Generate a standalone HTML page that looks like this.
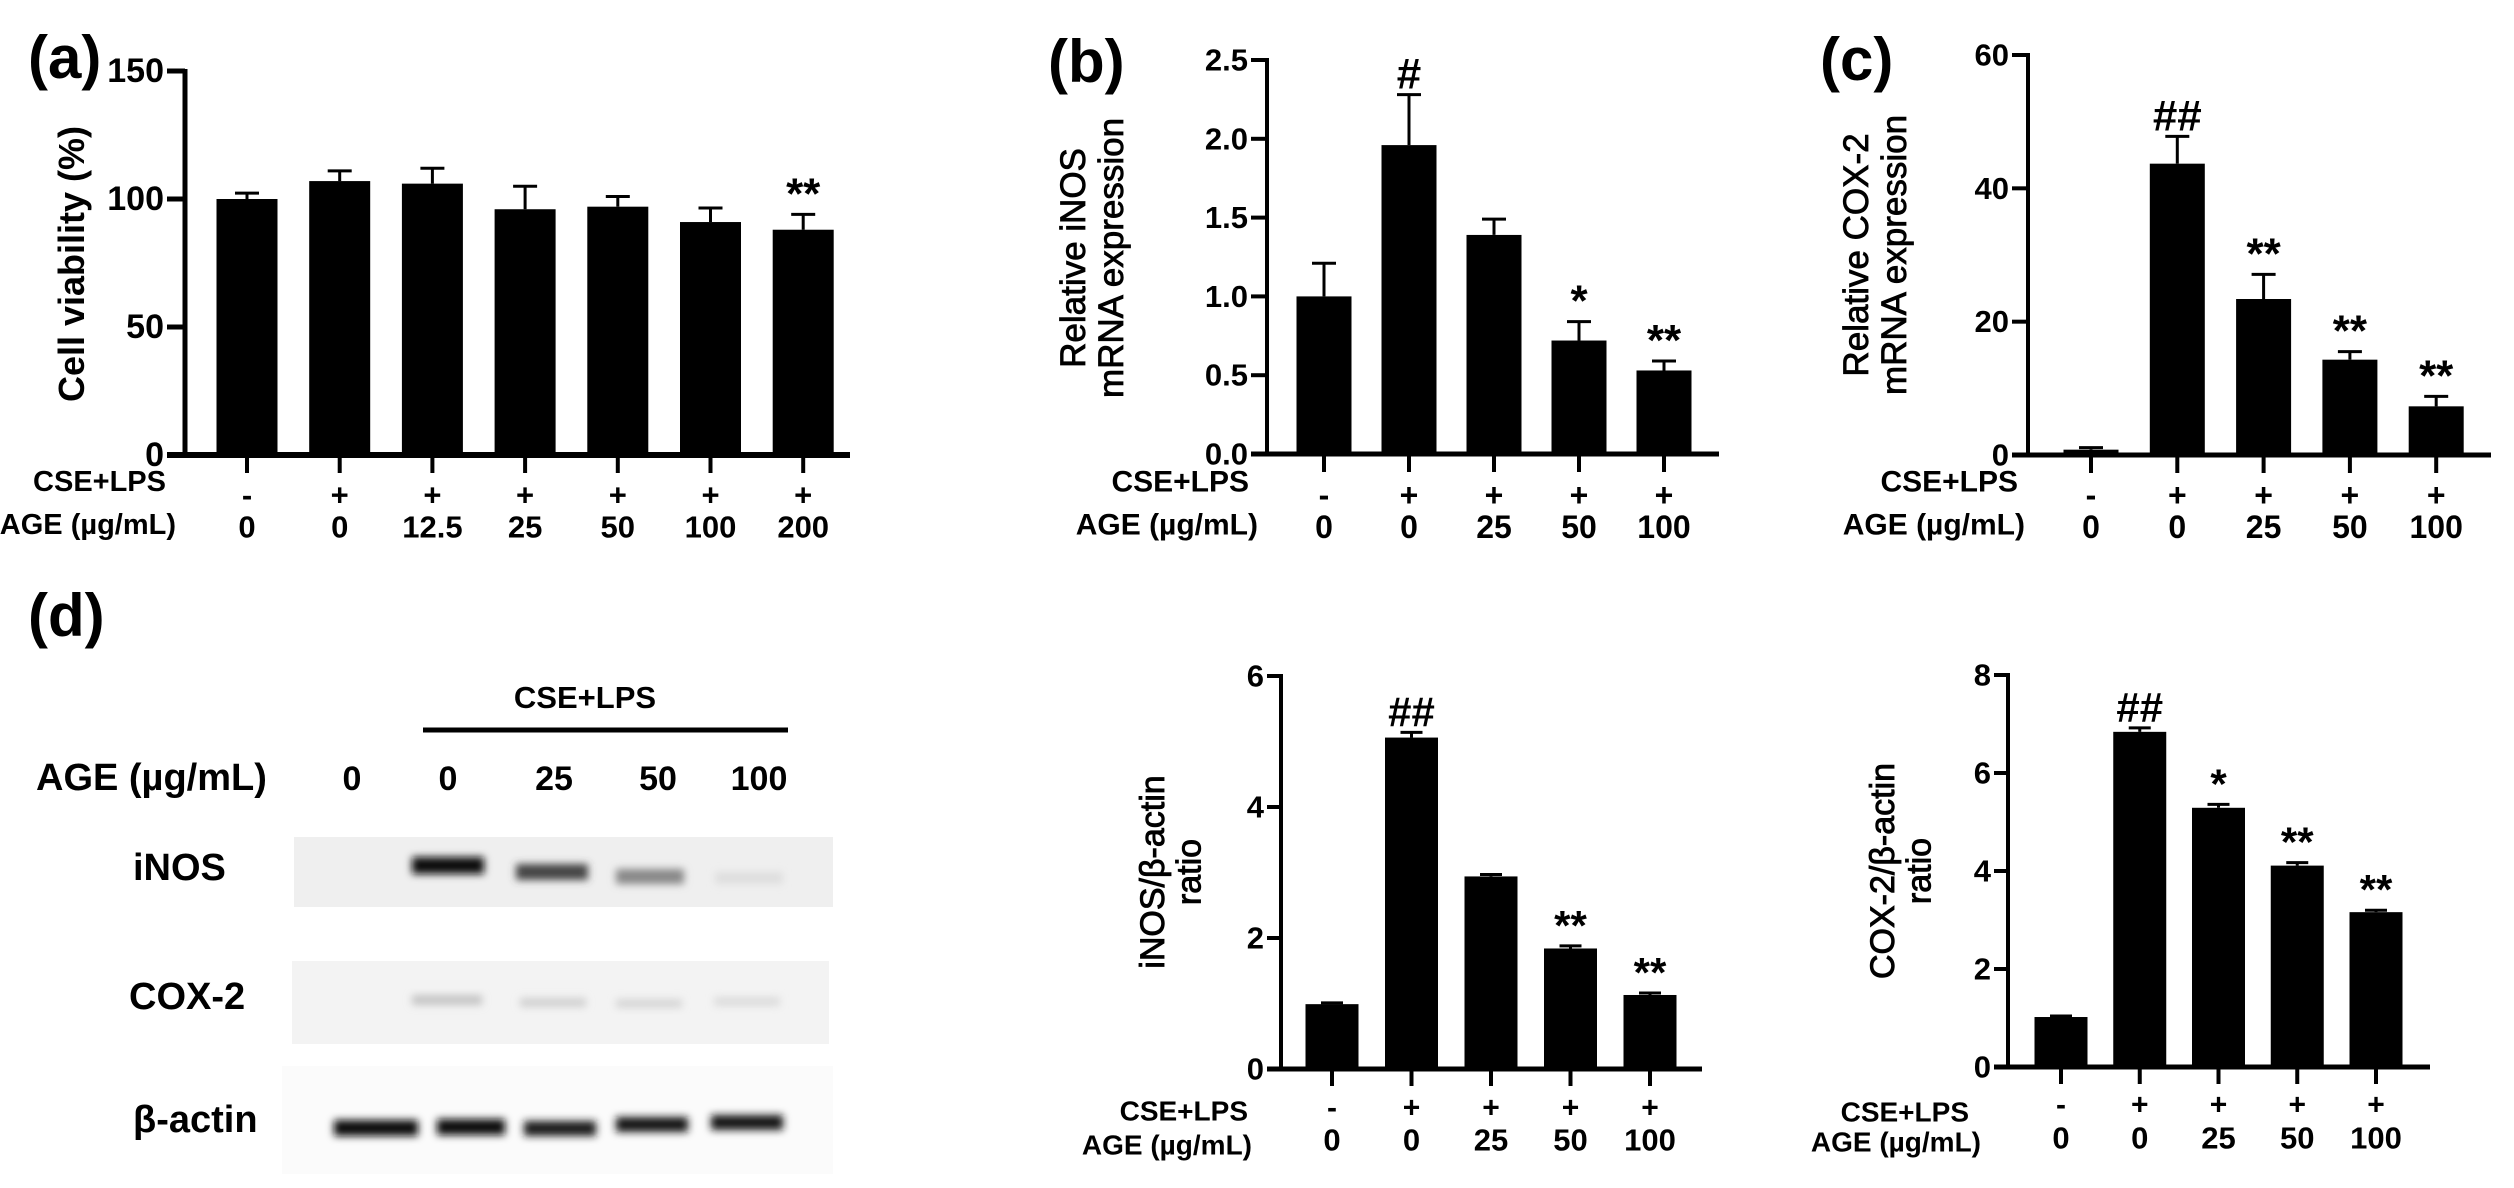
<!DOCTYPE html>
<html><head><meta charset="utf-8">
<style>
html,body{margin:0;padding:0;background:#fff;}
svg{display:block;}
text{font-family:"Liberation Sans","DejaVu Sans",sans-serif;fill:#000;}
</style></head>
<body>
<svg id="fig" width="2514" height="1188" viewBox="0 0 2514 1188" xmlns="http://www.w3.org/2000/svg">
  <defs>
    <filter id="blur4" x="-20%" y="-50%" width="140%" height="200%"><feGaussianBlur stdDeviation="4"/></filter>
  </defs>
  <!-- panel labels -->
  <text x="28" y="78" font-size="60" font-weight="bold">(a)</text>
  <text x="1048" y="82" font-size="60" font-weight="bold">(b)</text>
  <text x="1820" y="80" font-size="60" font-weight="bold">(c)</text>
  <text x="28" y="636" font-size="60" font-weight="bold">(d)</text>

  <!-- western blot -->
  <g>
    <text x="585" y="708" font-size="31" font-weight="bold" text-anchor="middle">CSE+LPS</text>
    <line x1="423" y1="730" x2="788" y2="730" stroke="#000" stroke-width="5"/>
    <text x="36" y="790" font-size="38" font-weight="bold">AGE (µg/mL)</text>
    <text x="352" y="790" font-size="34" font-weight="bold" text-anchor="middle">0</text>
    <text x="448" y="790" font-size="34" font-weight="bold" text-anchor="middle">0</text>
    <text x="554" y="790" font-size="34" font-weight="bold" text-anchor="middle">25</text>
    <text x="658" y="790" font-size="34" font-weight="bold" text-anchor="middle">50</text>
    <text x="759" y="790" font-size="34" font-weight="bold" text-anchor="middle">100</text>

    <text x="133" y="880" font-size="38" font-weight="bold">iNOS</text>
    <rect x="294" y="837" width="539" height="70" fill="#efefef"/>
    <g filter="url(#blur4)">
      <rect x="412" y="857" width="72" height="17" fill="#111"/>
      <rect x="516" y="864" width="72" height="16" fill="#444"/>
      <rect x="616" y="869" width="68" height="15" fill="#888"/>
      <rect x="715" y="872" width="68" height="12" fill="#dedede"/>
    </g>

    <text x="129" y="1009" font-size="38" font-weight="bold">COX-2</text>
    <rect x="292" y="961" width="537" height="83" fill="#f3f3f3"/>
    <g filter="url(#blur4)">
      <rect x="412" y="995" width="70" height="10" fill="#c4c4c4"/>
      <rect x="520" y="998" width="66" height="9" fill="#d0d0d0"/>
      <rect x="616" y="999" width="66" height="9" fill="#d6d6d6"/>
      <rect x="714" y="997" width="66" height="9" fill="#dcdcdc"/>
    </g>

    <text x="133" y="1132" font-size="38" font-weight="bold">β-actin</text>
    <rect x="282" y="1066" width="551" height="108" fill="#fbfbfb"/>
    <g filter="url(#blur4)">
      <rect x="334" y="1120" width="84" height="16" fill="#111"/>
      <rect x="437" y="1119" width="68" height="16" fill="#111"/>
      <rect x="524" y="1121" width="72" height="15" fill="#1a1a1a"/>
      <rect x="616" y="1117" width="72" height="15" fill="#151515"/>
      <rect x="711" y="1115" width="72" height="15" fill="#151515"/>
    </g>
  </g>
  <g id="charts"></g>
</svg>
<script>
// ---- Panel (a): cell viability ----
const aCategories = ["0","0","12.5","25","50","100","200"];
const aLps = ["-","+","+","+","+","+","+"];
const aValues = [100,107,106,96,97,91,88];
const aErrors = [2.3,4,6,9,4,5.5,6];
const aMarks = ["","","","","","","**"];
const aTicks = [0,50,100,150];
const aTickLabels = ["0","50","100","150"];

// ---- Panel (b): iNOS mRNA ----
const bCategories = ["0","0","25","50","100"];
const bLps = ["-","+","+","+","+"];
const bValues = [1.0,1.96,1.39,0.72,0.53];
const bErrors = [0.21,0.32,0.10,0.12,0.06];
const bMarks = ["","#","","*","**"];
const bTicks = [0,0.5,1.0,1.5,2.0,2.5];
const bTickLabels = ["0.0","0.5","1.0","1.5","2.0","2.5"];

// ---- Panel (c): COX-2 mRNA ----
const cCategories = ["0","0","25","50","100"];
const cLps = ["-","+","+","+","+"];
const cValues = [0.8,43.7,23.4,14.3,7.3];
const cErrors = [0.3,4.1,3.7,1.2,1.5];
const cMarks = ["","##","**","**","**"];
const cTicks = [0,20,40,60];
const cTickLabels = ["0","20","40","60"];

// ---- Panel (d1): iNOS/β-actin ----
const dCategories = ["0","0","25","50","100"];
const dLps = ["-","+","+","+","+"];
const dValues = [0.99,5.06,2.94,1.84,1.13];
const dErrors = [0.02,0.08,0.03,0.04,0.03];
const dMarks = ["","##","","**","**"];
const dTicks = [0,2,4,6];
const dTickLabels = ["0","2","4","6"];

// ---- Panel (d2): COX-2/β-actin ----
const eCategories = ["0","0","25","50","100"];
const eLps = ["-","+","+","+","+"];
const eValues = [1.02,6.84,5.29,4.11,3.16];
const eErrors = [0.02,0.08,0.07,0.06,0.04];
const eMarks = ["","##","*","**","**"];
const eTicks = [0,2,4,6,8];
const eTickLabels = ["0","2","4","6","8"];

const NS = "http://www.w3.org/2000/svg";
const root = document.getElementById("charts");
function mk(tag, attrs, parent){
  const el = document.createElementNS(NS, tag);
  for (const k in attrs) el.setAttribute(k, attrs[k]);
  (parent||root).appendChild(el);
  return el;
}

function drawChart(id, cfg, cats, lps, vals, errs, marks, ticks, tickLabels){
  const g = mk("g", {});
  
  
  const yScale = v => cfg.y0 - (v / cfg.yMax) * (cfg.y0 - cfg.yTop);
  const xScale = i => cfg.first + i * cfg.step;
  vals.forEach((v,i)=>{
    const cx = xScale(i), top = yScale(v);
    const r = mk("rect", {x: cx - cfg.bw/2, y: top, width: cfg.bw, height: cfg.y0 - top, fill:"#000"}, g);
    
    
    const et = yScale(v + errs[i]);
    const e = mk("path", {d:`M${cx} ${top} V${et} M${cx-cfg.cap/2} ${et} H${cx+cfg.cap/2}`, stroke:"#000", "stroke-width":3, fill:"none"}, g);
    
    
    if (marks[i]) {
      const t = mk("text", {x: cx, y: et - 6, "font-size": cfg.markSize, "font-weight":"bold", "text-anchor":"middle"}, g);
      t.textContent = marks[i];
      
      
    }
    mk("line", {x1: cx, y1: cfg.y0, x2: cx, y2: cfg.y0 + cfg.xtick, stroke:"#000", "stroke-width":4}, g);
    const s = mk("text", {x: cx, y: cfg.signY, "font-size": cfg.rowSize + 2, "font-weight":"bold", "text-anchor":"middle", "dominant-baseline":"central"}, g);
    s.textContent = lps[i];
    
    
    const c = mk("text", {x: cx, y: cfg.valY, "font-size": cfg.valSize, "font-weight":"bold", "text-anchor":"middle", "dominant-baseline":"central"}, g);
    c.textContent = cats[i];
    
    
  });
  const ax = mk("line", {x1: cfg.ax, y1: cfg.yTop - 2, x2: cfg.ax, y2: cfg.y0 + cfg.lw/2, stroke:"#000", "stroke-width": cfg.lw}, g);
  
  
  const bx = mk("line", {x1: cfg.ax - cfg.ytick, y1: cfg.y0, x2: cfg.axEnd, y2: cfg.y0, stroke:"#000", "stroke-width": cfg.lw + 1}, g);
  
  
  ticks.forEach((tv,i)=>{
    const y = yScale(tv);
    mk("line", {x1: cfg.ax - cfg.ytick, y1: y, x2: cfg.ax, y2: y, stroke:"#000", "stroke-width": cfg.lw}, g);
    const t = mk("text", {x: cfg.ax - cfg.ytick - 3, y: y, "font-size": cfg.tickSize, "font-weight":"bold", "text-anchor":"end", "dominant-baseline":"central"}, g);
    t.textContent = tickLabels[i];
    
    
  });
  const r1 = mk("text", {x: cfg.rowRight, y: cfg.lpsRowY, "font-size": cfg.rowSize, "font-weight":"bold", "text-anchor":"end", "dominant-baseline":"central"}, g);
  r1.textContent = "CSE+LPS";
  
  
  const r2 = mk("text", {x: cfg.rowRight2, y: cfg.ageRowY, "font-size": cfg.rowSize, "font-weight":"bold", "text-anchor":"end", "dominant-baseline":"central"}, g);
  r2.textContent = "AGE (µg/mL)";
  
  
  const tt = mk("text", {transform:`translate(${cfg.titleX},${cfg.titleY}) rotate(-90)`, "font-size": cfg.titleSize, "font-weight": cfg.titleWeight, "text-anchor":"middle", stroke:"#000", "stroke-width": cfg.titleStroke}, g);
  
  
  cfg.title.forEach((line,i)=>{
    const ts = mk("tspan", {x:0, dy: i===0 ? 0 : cfg.titleSize*1.08}, tt);
    ts.textContent = line;
  });
}

drawChart("viability", {ax:185, axEnd:850, yTop:71, y0:455, yMax:150, first:247, step:92.7, bw:61, cap:24, lw:5, ytick:18, xtick:18,
  markSize:44, tickSize:34, rowSize:29, valSize:31, signY:495, valY:527, rowRight:166, rowRight2:176, lpsRowY:482, ageRowY:525,
  titleX:84, titleY:264, titleSize:36, titleWeight:"bold", titleStroke:0, title:["Cell viability (%)"]},
  aCategories, aLps, aValues, aErrors, aMarks, aTicks, aTickLabels);

drawChart("inos-mrna", {ax:1267, axEnd:1719, yTop:60, y0:454, yMax:2.5, first:1324, step:85, bw:55, cap:24, lw:4, ytick:16, xtick:18,
  markSize:44, tickSize:31, rowSize:30, valSize:32, signY:495, valY:527, rowRight:1249, rowRight2:1258, lpsRowY:482, ageRowY:525,
  titleX:1085, titleY:258, titleSize:35, titleWeight:"normal", titleStroke:0.8, title:["Relative iNOS","mRNA expression"]},
  bCategories, bLps, bValues, bErrors, bMarks, bTicks, bTickLabels);

drawChart("cox2-mrna", {ax:2028, axEnd:2491, yTop:55, y0:455, yMax:60, first:2091, step:86.3, bw:55, cap:24, lw:4, ytick:16, xtick:18,
  markSize:44, tickSize:31, rowSize:30, valSize:32, signY:495, valY:527, rowRight:2018, rowRight2:2025, lpsRowY:482, ageRowY:525,
  titleX:1868, titleY:255, titleSize:35, titleWeight:"normal", titleStroke:0.8, title:["Relative COX-2","mRNA expression"]},
  cCategories, cLps, cValues, cErrors, cMarks, cTicks, cTickLabels);

drawChart("inos-ratio", {ax:1281, axEnd:1702, yTop:676, y0:1069, yMax:6, first:1332, step:79.5, bw:53, cap:22, lw:4, ytick:14, xtick:17,
  markSize:42, tickSize:31, rowSize:28, valSize:31, signY:1108, valY:1140, rowRight:1248, rowRight2:1252, lpsRowY:1111, ageRowY:1145,
  titleX:1164, titleY:872, titleSize:34, titleWeight:"normal", titleStroke:0.9, title:["iNOS/β-actin","ratio"]},
  dCategories, dLps, dValues, dErrors, dMarks, dTicks, dTickLabels);

drawChart("cox2-ratio", {ax:2008, axEnd:2430, yTop:675, y0:1067, yMax:8, first:2061, step:78.75, bw:53, cap:22, lw:4, ytick:14, xtick:17,
  markSize:42, tickSize:31, rowSize:28, valSize:31, signY:1105, valY:1138, rowRight:1969, rowRight2:1981, lpsRowY:1112, ageRowY:1142,
  titleX:1894, titleY:871, titleSize:34, titleWeight:"normal", titleStroke:0.9, title:["COX-2/β-actin","ratio"]},
  eCategories, eLps, eValues, eErrors, eMarks, eTicks, eTickLabels);
</script>
</body></html>
